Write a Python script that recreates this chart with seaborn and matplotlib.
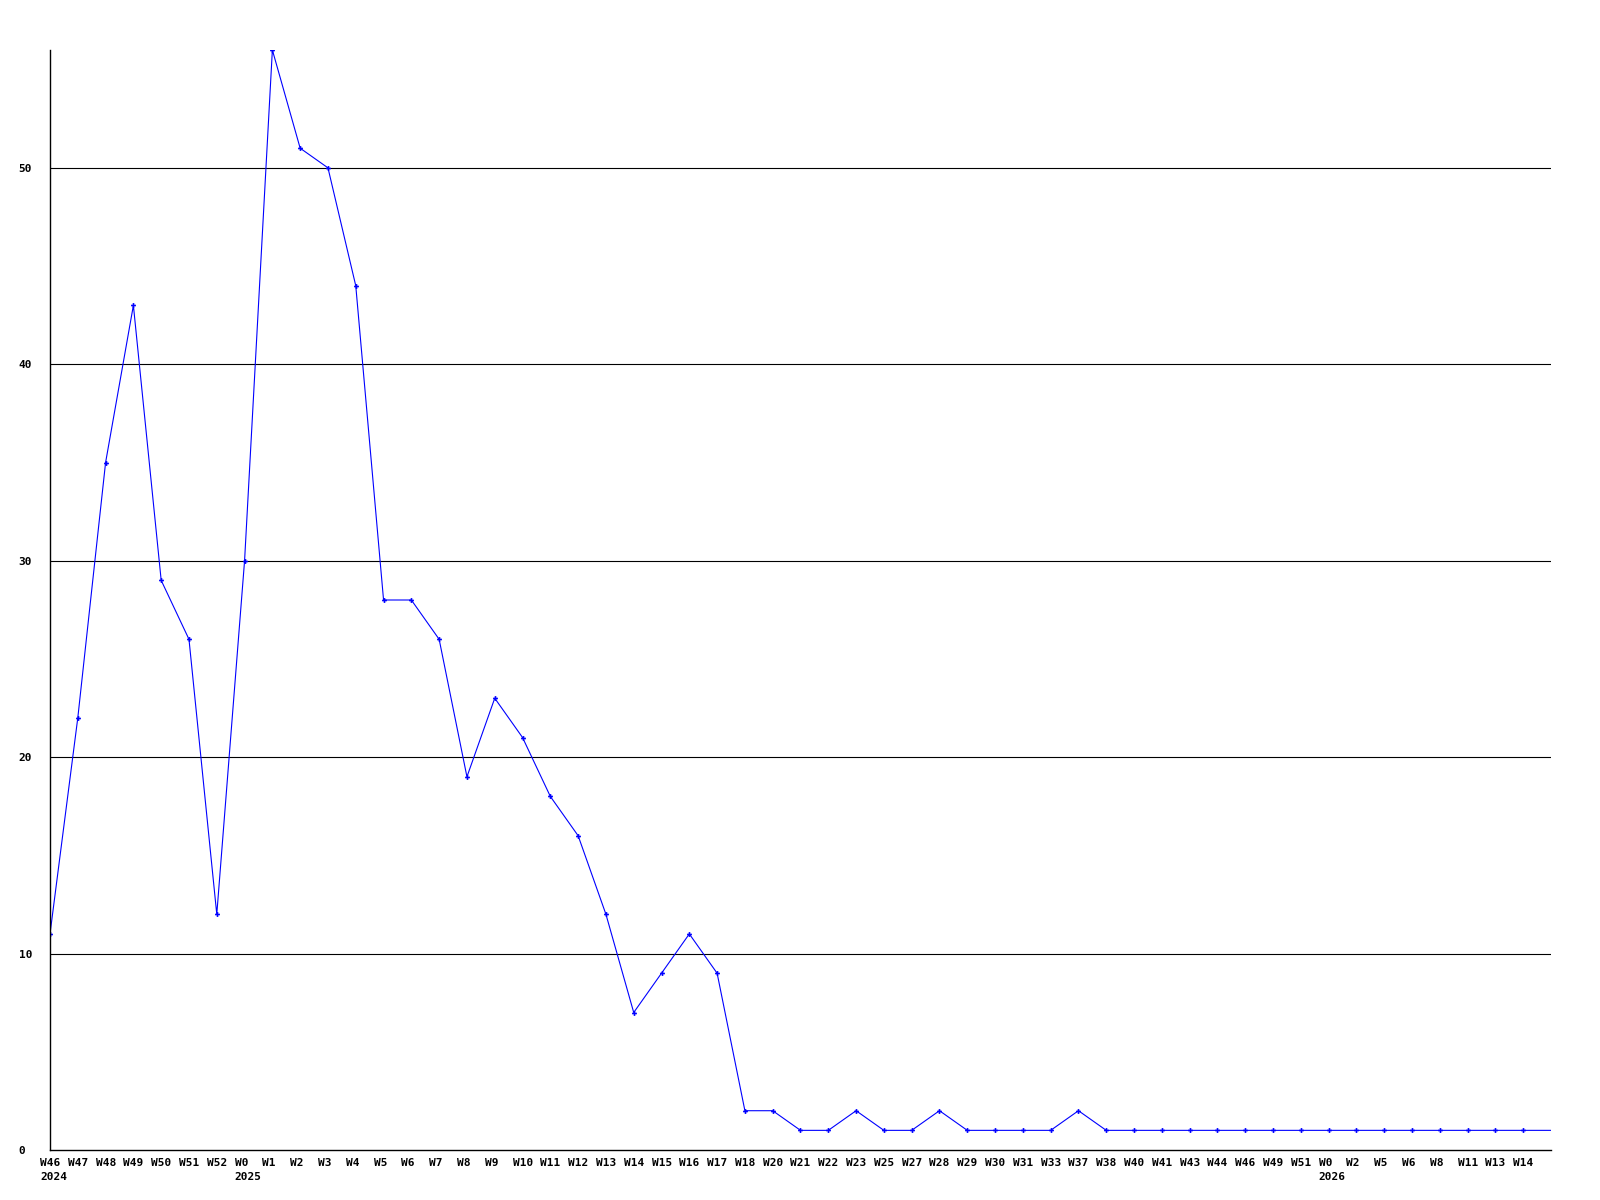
import numpy as np
import pandas as pd
import matplotlib
matplotlib.use("Agg")
import matplotlib.pyplot as plt
import matplotlib.transforms as mtransforms
import seaborn as sns

# weekly counts
weeks = ["W46", "W47", "W48", "W49", "W50", "W51", "W52", "W0", "W1", "W2",
         "W3", "W4", "W5", "W6", "W7", "W8", "W9", "W10", "W11", "W12",
         "W13", "W14", "W15", "W16", "W17", "W18", "W20", "W21", "W22", "W23",
         "W25", "W27", "W28", "W29", "W30", "W31", "W33", "W37", "W38", "W40",
         "W41", "W43", "W44", "W46", "W49", "W51", "W0", "W2", "W5", "W6",
         "W8", "W11", "W13", "W14", ""]
years = ["2024", "", "", "", "", "", "", "2025", "", "",
         "", "", "", "", "", "", "", "", "", "",
         "", "", "", "", "", "", "", "", "", "",
         "", "", "", "", "", "", "", "", "", "",
         "", "", "", "", "", "", "2026", "", "", "",
         "", "", "", "", ""]
counts = [11, 22, 35, 43, 29, 26, 12, 30, 56, 51,
          50, 44, 28, 28, 26, 19, 23, 21, 18, 16,
          12, 7, 9, 11, 9, 2, 2, 1, 1, 2,
          1, 1, 2, 1, 1, 1, 1, 2, 1, 1,
          1, 1, 1, 1, 1, 1, 1, 1, 1, 1,
          1, 1, 1, 1, 1]
yticks = [0, 10, 20, 30, 40, 50]

df = pd.DataFrame({"pos": np.arange(len(counts)), "count": counts})

sns.set_style("white")
plt.rcParams["font.family"] = ["DejaVu Sans Mono"]

fig = plt.figure(figsize=(16, 12), dpi=100)
ax = fig.add_axes([50 / 1600, 50 / 1200, 1501 / 1600, 1100 / 1200])

# the last point (current week) has no marker and no label
sns.lineplot(data=df, x="pos", y="count", ax=ax, color="#0000ff", linewidth=0.8,
             marker="P", markersize=3.5, markeredgewidth=0, markerfacecolor="#0000ff",
             markevery=list(range(len(counts) - 1)))

ax.set_xlim(0, len(counts) - 1)
ax.set_ylim(0, max(counts))

for y in yticks[1:]:
    ax.axhline(y, color="black", linewidth=0.8, zorder=0)

for side in ["top", "right"]:
    ax.spines[side].set_visible(False)
for side in ["left", "bottom"]:
    ax.spines[side].set_color("black")
    ax.spines[side].set_linewidth(1.0)

ax.set_yticks(yticks)
ax.set_yticklabels([str(v) for v in yticks], fontsize=8, fontweight="bold",
                   ha="left", color="black")
ax.tick_params(axis="y", length=0, pad=22.5)

labels = [w + ("\n" + y if y else "") for w, y in zip(weeks, years)]
ax.set_xticks(df["pos"])
ax.set_xticklabels(labels, fontsize=8, fontweight="bold", ha="left", color="black",
                   multialignment="left", linespacing=1.4)
ax.tick_params(axis="x", length=0, pad=6)
shift = mtransforms.ScaledTranslation(-10 / 100, 0, fig.dpi_scale_trans)
for lab in ax.get_xticklabels():
    lab.set_transform(lab.get_transform() + shift)

ax.set_xlabel("")
ax.set_ylabel("")
ax.grid(False)

fig.savefig("out.png", dpi=100, facecolor="white")
